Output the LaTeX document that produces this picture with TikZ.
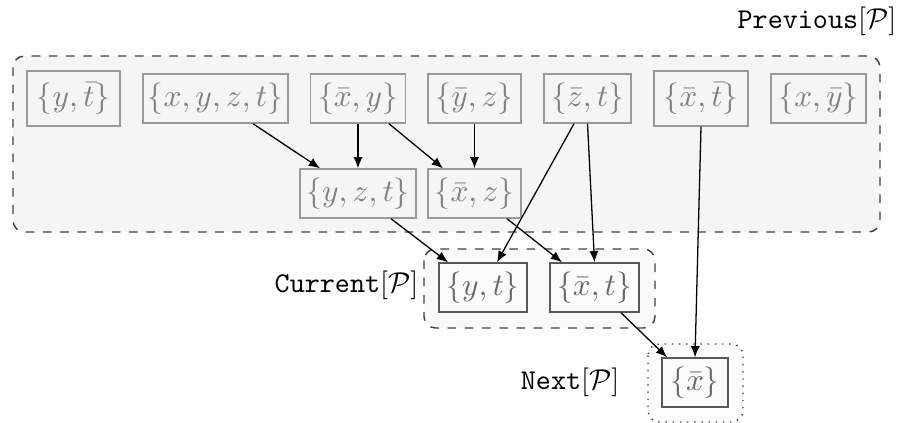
\documentclass[tikz,border=0pt]{standalone}
\usetikzlibrary{arrows.meta,calc}
\begin{document}
\begin{tikzpicture}[x=0.3484pt,y=-0.3484pt,
  prevbox/.style={draw=black!40,text=black!50,fill=gray!8,rectangle,inner sep=0pt,minimum height=17.07pt,line width=0.5pt,font=\fontsize{10.95}{13}\selectfont},
  curbox/.style={draw=black!65,text=black!60,fill=gray!3,rectangle,inner sep=0pt,minimum height=17.07pt,line width=0.5pt,font=\fontsize{10.95}{13}\selectfont},
  grp/.style={rounded corners=4pt,line width=0.5pt,draw=black!75},
  lbl/.style={inner sep=0pt,anchor=east},
  arr/.style={-{Latex[length=3.9pt,width=3.2pt]},line width=0.45pt,black}]
\useasboundingbox (0,0) rectangle (900,423);
% containers
\draw[grp,dashed,fill=gray!8] (13,56) rectangle (880,232);
\draw[grp,dashed,fill=gray!5] (424,249) rectangle (655,328);
\draw[grp,dotted,fill=gray!2] (648,344) rectangle (743,422);
% labels
\node[lbl] (lprev) at (897,21) {\texttt{Previous}$[\mathcal{P}]$};
\node[lbl] (lcur) at (419,285) {\texttt{Current}$[\mathcal{P}]$};
\node[lbl] (lnext) at (620,382) {\texttt{Next}$[\mathcal{P}]$};
% previous row 1
\node[prevbox,minimum width=32.4pt,minimum height=19.16pt] (n1) at (73.5,98.5) {$\{y,\bar{t}\}$};
\node[prevbox,minimum width=50.52pt] (n2) at (215.5,98.5) {$\{x,y,z,t\}$};
\node[prevbox,minimum width=33.1pt] (n3) at (358,98.5) {$\{\bar{x},y\}$};
\node[prevbox,minimum width=32.4pt] (n4) at (474.5,98.5) {$\{\bar{y},z\}$};
\node[prevbox,minimum width=30.31pt] (n5) at (587.5,98.5) {$\{\bar{z},t\}$};
\node[prevbox,minimum width=32.75pt,minimum height=19.16pt] (n6) at (701,98.5) {$\{\bar{x},\bar{t}\}$};
\node[prevbox,minimum width=33.1pt] (n7) at (818.5,98.5) {$\{x,\bar{y}\}$};
% previous row 2
\node[prevbox,minimum width=40.41pt] (m1) at (358,193.5) {$\{y,z,t\}$};
\node[prevbox,minimum width=32.4pt] (m2) at (474.5,193.5) {$\{\bar{x},z\}$};
% current
\node[curbox,minimum width=30.66pt] (c1) at (483,287.5) {$\{y,t\}$};
\node[curbox,minimum width=31.0pt] (c2) at (594.5,287.5) {$\{\bar{x},t\}$};
% next
\node[curbox,minimum width=23pt] (x1) at (695,382.5) {$\{\bar{x}\}$};
% arrows
\draw[arr] ($(n2.south)+(37.5,0)$) -- ($(m1.north)+(-38,0)$);
\draw[arr] (n3.south) -- (m1.north);
\draw[arr] ($(n3.south)+(31,0)$) -- ($(m2.north)+(-31.5,0)$);
\draw[arr] (n4.south) -- (m2.north);
\draw[arr] ($(n5.south)+(-13.5,0)$) -- ($(c1.north)+(14,0)$);
\draw[arr] (n5.south) -- (c2.north);
\draw[arr] (n6.south) -- (x1.north);
\draw[arr] ($(m1.south)+(33,0)$) -- ($(c1.north)+(-35,0)$);
\draw[arr] ($(m2.south)+(32.5,0)$) -- ($(c2.north)+(-32.5,0)$);
\draw[arr] ($(c2.south)+(26.5,0)$) -- ($(x1.north)+(-28,0)$);
\end{tikzpicture}
\end{document}
